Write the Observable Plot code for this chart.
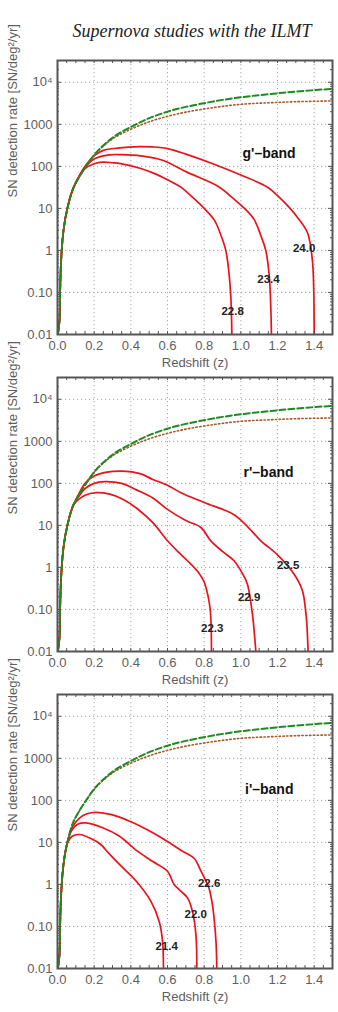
<!DOCTYPE html>
<html><head><meta charset="utf-8">
<script src="https://cdn.jsdelivr.net/npm/d3@7"></script>
<script src="https://cdn.jsdelivr.net/npm/@observablehq/plot@0.6"></script>
<style>
body{margin:0;background:#fff;width:338px;height:1012px;overflow:hidden;position:relative}
#title{position:absolute;top:22px;left:46px;width:292px;text-align:center;font-family:"Liberation Serif","Times New Roman",serif;font-style:italic;font-size:18px;line-height:18px;color:#222;white-space:nowrap}
#charts{position:absolute;top:58px;left:0}
svg{overflow:visible;display:block}
</style></head><body>
<div id="title">Supernova studies with the ILMT</div>
<div id="charts"></div>
<script>
// ---- axis ticks ----
const xTicks = [0, 0.2, 0.4, 0.6, 0.8, 1.0, 1.2, 1.4];
const xMinorTicks = [0,0.05,0.1,0.15,0.2,0.25,0.3,0.35,0.4,0.45,0.5,0.55,0.6,0.65,0.7,0.75,0.8,0.85,0.9,0.95,1.0,1.05,1.1,1.15,1.2,1.25,1.3,1.35,1.4,1.45,1.5];
const yTicks = [0.01, 0.1, 1, 10, 100, 1000, 10000];
const yTickLabels = ["0.01", "0.10", "1", "10", "100", "1000", "10\u2074"];

// ---- total SN rate (green dashed) and alternative rate (brown dotted) ----
const totalRate = [[0.002,0.01],[0.011,0.022],[0.014,0.095],[0.02,0.6],[0.033,3.1],[0.056,11],[0.083,28],[0.111,49],[0.156,100],[0.21,210],[0.3,480],[0.41,910],[0.5,1400],[0.6,2000],[0.7,2600],[0.85,3500],[1.0,4400],[1.15,5200],[1.3,6000],[1.5,7000]];
const altRate = [[0.002,0.01],[0.011,0.022],[0.014,0.095],[0.02,0.6],[0.033,3.1],[0.056,11],[0.083,28],[0.111,49],[0.156,100],[0.21,205],[0.3,450],[0.41,800],[0.5,1150],[0.6,1550],[0.7,1950],[0.85,2500],[1.0,3000],[1.15,3250],[1.3,3450],[1.5,3600]];

// ---- g'-band detections ----
const g228 = [[0.002,0.01],[0.011,0.022],[0.014,0.095],[0.02,0.6],[0.033,3.1],[0.056,11],[0.083,28],[0.11,50],[0.15,88],[0.2,115],[0.247,126],[0.3,122],[0.345,116],[0.45,90],[0.527,68],[0.6,48],[0.673,32],[0.745,17],[0.8,10],[0.854,5.4],[0.89,2.4],[0.918,1.0],[0.935,0.3],[0.946,0.07],[0.951,0.01]];
const g234 = [[0.002,0.01],[0.011,0.022],[0.014,0.095],[0.02,0.6],[0.033,3.1],[0.056,11],[0.083,28],[0.11,50],[0.147,90],[0.2,150],[0.284,188],[0.35,190],[0.455,178],[0.55,150],[0.6,125],[0.709,72],[0.873,34],[0.96,17],[1.02,10],[1.073,5.4],[1.11,2.2],[1.136,1.0],[1.155,0.25],[1.163,0.05],[1.167,0.01]];
const g240 = [[0.002,0.01],[0.011,0.022],[0.014,0.095],[0.02,0.6],[0.033,3.1],[0.056,11],[0.083,28],[0.11,50],[0.15,100],[0.2,180],[0.25,240],[0.338,275],[0.447,295],[0.52,290],[0.6,265],[0.7,195],[0.854,112],[1.0,62],[1.146,32],[1.2,20],[1.26,11],[1.31,6],[1.364,2.6],[1.39,0.6],[1.398,0.1],[1.4,0.01]];
const gLabels = [["24.0",1.345,1.1],["23.4",1.151,0.2],["22.8",0.955,0.035]];

// ---- r'-band detections ----
const r223 = [[0.002,0.01],[0.011,0.022],[0.014,0.095],[0.02,0.6],[0.033,3.1],[0.056,11],[0.083,28],[0.1,36],[0.15,52],[0.21,60],[0.28,56],[0.356,42],[0.43,26],[0.52,11.6],[0.6,4.3],[0.66,2.3],[0.709,1.44],[0.77,0.75],[0.8,0.45],[0.822,0.2],[0.833,0.1],[0.838,0.04],[0.84,0.01]];
const r229 = [[0.002,0.01],[0.011,0.022],[0.014,0.095],[0.02,0.6],[0.033,3.1],[0.056,11],[0.083,28],[0.1,38],[0.15,75],[0.2,100],[0.256,110],[0.35,100],[0.43,70],[0.52,45],[0.6,24],[0.7,13],[0.782,8.9],[0.836,4.3],[0.9,2.4],[0.963,1.44],[1.01,0.7],[1.036,0.4],[1.06,0.1],[1.069,0.046],[1.082,0.01]];
const r235 = [[0.002,0.01],[0.011,0.022],[0.014,0.095],[0.02,0.6],[0.033,3.1],[0.056,11],[0.083,28],[0.1,40],[0.15,100],[0.2,150],[0.27,185],[0.356,195],[0.45,170],[0.52,124],[0.6,90],[0.673,60],[0.8,35],[0.963,18],[1.04,9],[1.109,4.3],[1.2,2.0],[1.29,0.7],[1.336,0.28],[1.355,0.08],[1.36,0.046],[1.367,0.01]];
const rLabels = [["23.5",1.258,1.1],["22.9",1.045,0.19],["22.3",0.844,0.036]];

// ---- i'-band detections ----
const i214 = [[0.002,0.01],[0.011,0.022],[0.014,0.095],[0.02,0.6],[0.033,3.1],[0.056,10],[0.08,14],[0.12,15.4],[0.18,12.5],[0.236,8.9],[0.28,5.5],[0.338,3.0],[0.43,1.19],[0.509,0.4],[0.555,0.13],[0.573,0.045],[0.578,0.01]];
const i220 = [[0.002,0.01],[0.011,0.022],[0.014,0.095],[0.02,0.6],[0.033,3.1],[0.056,11],[0.08,20],[0.11,27],[0.156,29],[0.25,22],[0.338,14],[0.436,6.2],[0.52,3.5],[0.6,2.06],[0.636,1.0],[0.68,0.65],[0.709,0.48],[0.736,0.23],[0.755,0.064],[0.76,0.01]];
const i226 = [[0.002,0.01],[0.011,0.022],[0.014,0.095],[0.02,0.6],[0.033,3.1],[0.056,11],[0.083,24],[0.12,38],[0.16,48],[0.21,52],[0.3,45],[0.4,31],[0.455,24],[0.52,17],[0.6,10.5],[0.673,6.5],[0.745,4.2],[0.782,2.1],[0.81,1.2],[0.827,0.8],[0.845,0.33],[0.854,0.16],[0.865,0.04],[0.869,0.01]];
const iLabels = [["22.6",0.827,1.05],["22.0",0.754,0.19],["21.4",0.595,0.034]];

const bandNames = ["g'\u2013band", "r'\u2013band", "i'\u2013band"];
const bandLabelPos = [[1.154, 200], [1.151, 185], [1.155, 180]];

const yLabel = "SN detection rate [SN/deg\u00B2/yr]";
const xLabel = "Redshift (z)";

// minor log ticks derived from the decade ticks
const yMinorTicks = [];
for (let k = 0; k < yTicks.length - 1; k++) for (let m = 2; m <= 9; m++) yMinorTicks.push(yTicks[k] * m);
yMinorTicks.push(20000);

const FRAME_W = 275, FRAME_H = 274;
const red = "#e8141c", green = "#1d8a22", brown = "#a65a2a", axisGray = "#5e5e5e";

function panel(curves, labels, band, bandPos) {
  const xy = {x: d => d[0], y: d => d[1]};
  return Plot.plot({
    width: 338, height: 317,
    marginLeft: 57, marginRight: 6, marginTop: 2, marginBottom: 41,
    x: {domain: [0, 1.5]},
    y: {type: "log", domain: [0.01, 33000]},
    style: {fontFamily: "'Liberation Sans', Arial, sans-serif", background: "white", overflow: "visible"},
    marks: [
      Plot.gridX(xTicks.slice(1), {stroke: "#a8a8a8", strokeOpacity: 1, strokeWidth: 1, strokeDasharray: "1.2,2.8"}),
      Plot.gridY(yTicks.slice(1), {stroke: "#a8a8a8", strokeOpacity: 1, strokeWidth: 1, strokeDasharray: "1.2,2.8"}),
      ...curves.map(c => Plot.line(c, {...xy, stroke: red, strokeWidth: 1.7, curve: "catmull-rom", clip: true})),
      Plot.line(altRate, {...xy, stroke: brown, strokeWidth: 1.6, strokeDasharray: "1.4,2.4", curve: "catmull-rom", clip: true}),
      Plot.line(totalRate, {...xy, stroke: green, strokeWidth: 2, strokeDasharray: "6,3", curve: "catmull-rom", clip: true}),
      Plot.text(labels, {x: d => d[1], y: d => d[2], text: d => d[0], fontWeight: "bold", fontSize: 11.5, fill: "#222"}),
      Plot.text([band], {x: () => bandPos[0], y: () => bandPos[1], text: d => d, fontWeight: "bold", fontSize: 14, fill: "#111"}),
      // inward ticks on all four sides
      Plot.tickX(xMinorTicks, {x: d => d, insetTop: FRAME_H - 3, stroke: "#555"}),
      Plot.tickX(xMinorTicks, {x: d => d, insetBottom: FRAME_H - 3, stroke: "#555"}),
      Plot.tickY(yTicks, {y: d => d, insetRight: FRAME_W - 4, stroke: "#555"}),
      Plot.tickY(yTicks, {y: d => d, insetLeft: FRAME_W - 4, stroke: "#555"}),
      Plot.tickY(yMinorTicks, {y: d => d, insetRight: FRAME_W - 2, stroke: "#555"}),
      Plot.tickY(yMinorTicks, {y: d => d, insetLeft: FRAME_W - 2, stroke: "#555"}),
      Plot.frame({stroke: "#555", strokeWidth: 2}),
      Plot.axisX(xTicks, {tickSize: 0, tickPadding: 6, tickFormat: d3.format(".1f"), fontSize: 13, color: axisGray, label: null}),
      Plot.axisY(yTicks, {tickSize: 0, tickPadding: 5, tickFormat: d => yTickLabels[yTicks.indexOf(d)], fontSize: 13, color: axisGray, label: null}),
      Plot.text([xLabel], {frameAnchor: "bottom", dy: 32.5, text: d => d, fontSize: 13, fill: axisGray}),
      Plot.text([yLabel], {frameAnchor: "left", dx: -45, rotate: -90, text: d => d, fontSize: 13, fill: axisGray})
    ]
  });
}

const host = document.getElementById("charts");
host.appendChild(panel([g228, g234, g240], gLabels, bandNames[0], bandLabelPos[0]));
host.appendChild(panel([r223, r229, r235], rLabels, bandNames[1], bandLabelPos[1]));
host.appendChild(panel([i214, i220, i226], iLabels, bandNames[2], bandLabelPos[2]));
</script>
</body></html>
